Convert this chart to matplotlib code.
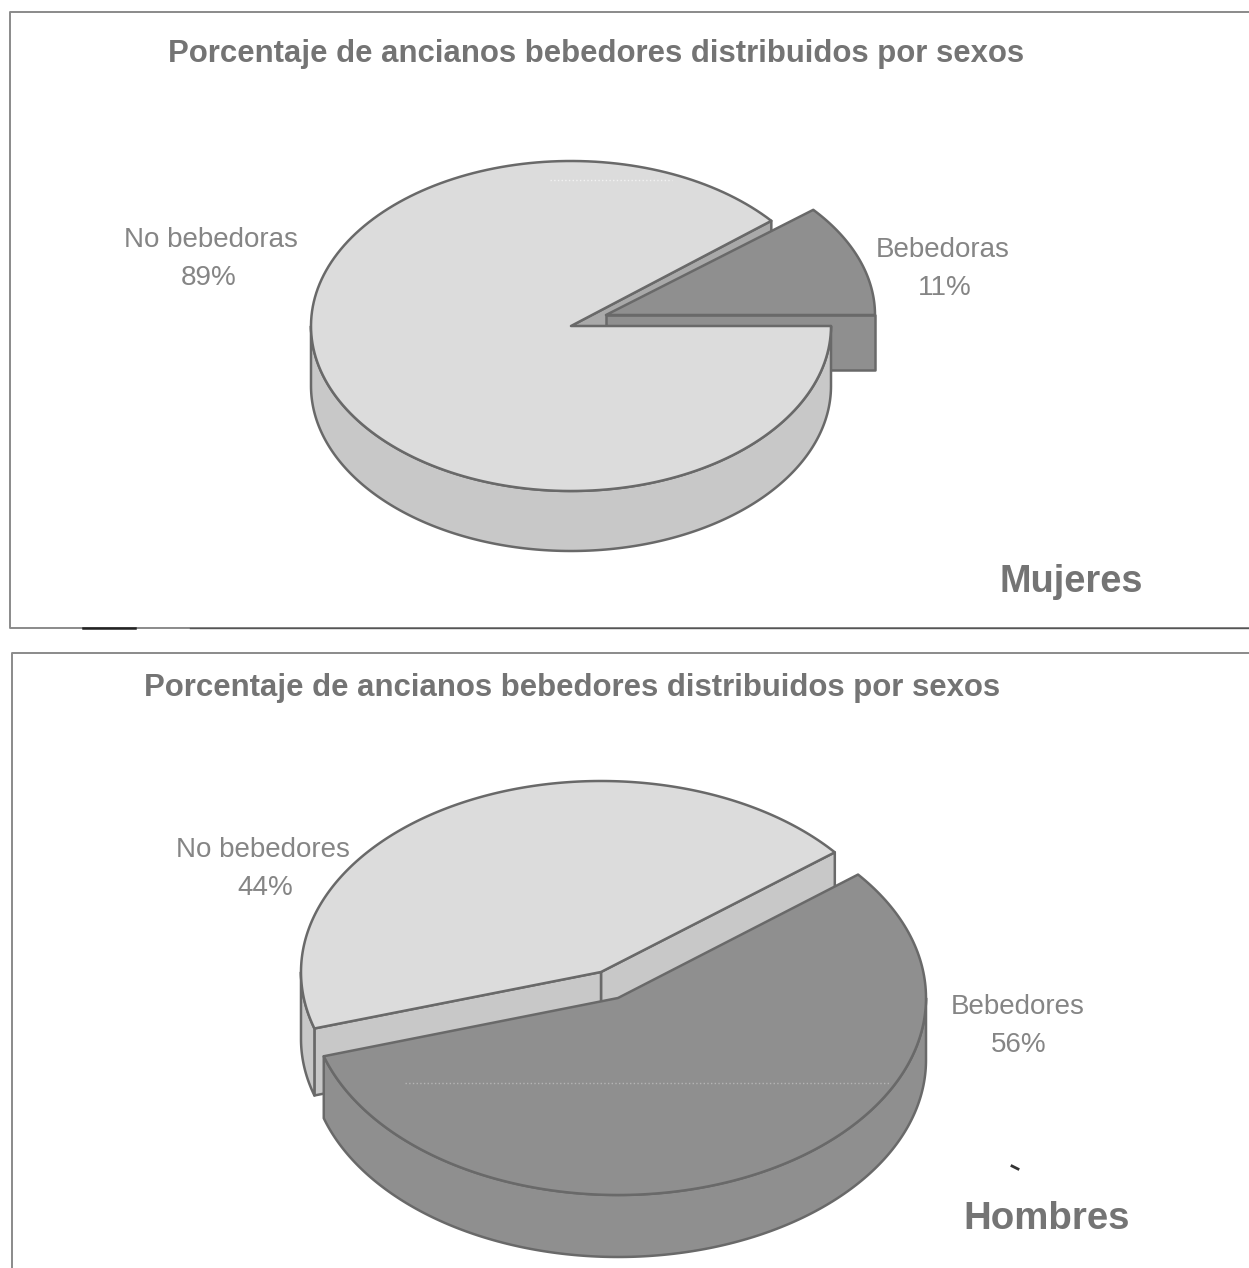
import numpy as np
import matplotlib
matplotlib.use("Agg")
import matplotlib.pyplot as plt
from matplotlib.patches import Polygon

plt.rcParams['font.family'] = ['Liberation Sans', 'DejaVu Sans']

title = "Porcentaje de ancianos bebedores distribuidos por sexos"

mujeres_labels = ["Bebedoras", "No bebedoras"]
mujeres_values = [11, 89]
hombres_labels = ["No bebedores", "Bebedores"]
hombres_values = [44, 56]

LIGHT = "#dcdcdc"
SIDE = "#c8c8c8"
CUT = "#a9a9a9"
DARK = "#8f8f8f"
EDGE = "#696969"
TEXT = "#747474"
LABEL = "#858585"
FRAME = "#8a8a8a"


def arc(cx, cy, rx, ry, a0, a1, n=200):
    t = np.radians(np.linspace(a0, a1, n))
    return np.column_stack([cx + rx * np.cos(t), cy - ry * np.sin(t)])


def draw(ax, pts, color, z, lw=1.8):
    ax.add_patch(Polygon(pts, closed=True, facecolor=color, edgecolor=EDGE,
                         linewidth=lw, joinstyle='round', zorder=z))


def top_face(ax, c, r, a0, a1, color, z):
    pts = np.vstack([[c], arc(c[0], c[1], r[0], r[1], a0, a1)])
    draw(ax, pts, color, z)


def rim(ax, c, r, depth, a0, a1, color, z):
    # outer wall of a slice, from the rim down by depth
    upper = arc(c[0], c[1], r[0], r[1], a0, a1)
    lower = upper[::-1] + [0, depth]
    draw(ax, np.vstack([upper, lower]), color, z)


def radial_face(ax, c, r, depth, a, color, z):
    p = arc(c[0], c[1], r[0], r[1], a, a, 1)[0]
    draw(ax, [c, p, p + [0, depth], np.array(c) + [0, depth]], color, z)


fig = plt.figure(figsize=(12.49, 12.68), dpi=100)
ax = fig.add_axes([0, 0, 1, 1])
ax.set_xlim(0, 1249)
ax.set_ylim(1268, 0)
ax.axis('off')

# panel frames
ax.plot([1249, 10, 10, 1249], [12, 12, 628, 628], color=FRAME, lw=1.4, zorder=1)
ax.plot([83, 135], [628, 628], color="#222222", lw=1.8, zorder=1)
ax.plot([190, 1249], [628, 628], color="#555555", lw=1.0, zorder=1)
ax.plot([12, 12, 1249], [1268, 653, 653], color=FRAME, lw=1.4, zorder=1)

# women: small slice pulled out towards the upper right
start = 0
cut = start + mujeres_values[0] * 3.6
c_main = np.array([571.0, 326.0])
r_main = (260, 165)
c_out = np.array([606.0, 315.0])
r_out = (269, 165)
radial_face(ax, c_main, r_main, 60, cut, CUT, 2)
radial_face(ax, c_out, r_out, 55, start, DARK, 3)
top_face(ax, c_out, r_out, start, cut, DARK, 4)
rim(ax, c_main, r_main, 60, 180, 360, SIDE, 5)
top_face(ax, c_main, r_main, cut, 360, LIGHT, 6)
ax.plot([550, 672], [180, 180], color="#f2f2f2", lw=1, ls=':', zorder=7)

# men: large slice pulled out towards the lower right
cut0 = 38.8
cut1 = cut0 + hombres_values[0] * 3.6
c_back = np.array([601.0, 972.0])
r_back = (300, 191)
c_front = np.array([618.0, 998.0])
r_front = (308, 197)
radial_face(ax, c_back, r_back, 67, cut0, SIDE, 2)
radial_face(ax, c_back, r_back, 67, cut1, SIDE, 2)
rim(ax, c_back, r_back, 67, 180, cut1, SIDE, 2)
top_face(ax, c_back, r_back, cut0, cut1, LIGHT, 3)
rim(ax, c_front, r_front, 62, cut1, 360, DARK, 4)
top_face(ax, c_front, r_front, cut1, cut0 + 360, DARK, 5)
ax.plot([405, 890], [1083, 1083], color="#b5b5b5", lw=1, ls=':', zorder=6)
ax.plot([1012, 1018], [1166, 1169], color="#333333", lw=2, zorder=6)

# titles
ax.text(168, 54, title, fontsize=22.45, fontweight='bold', color=TEXT,
        ha='left', va='center', zorder=8)
ax.text(144, 688, title, fontsize=22.45, fontweight='bold', color=TEXT,
        ha='left', va='center', zorder=8)

# slice labels
ax.text(211, 240, mujeres_labels[1], fontsize=20, color=LABEL, ha='center', va='center', zorder=8)
ax.text(209, 278, f"{mujeres_values[1]}%", fontsize=20, color=LABEL, ha='center', va='center', zorder=8)
ax.text(943, 250, mujeres_labels[0], fontsize=20, color=LABEL, ha='center', va='center', zorder=8)
ax.text(945, 288, f"{mujeres_values[0]}%", fontsize=20, color=LABEL, ha='center', va='center', zorder=8)
ax.text(263, 850, hombres_labels[0], fontsize=20, color=LABEL, ha='center', va='center', zorder=8)
ax.text(265, 888, f"{hombres_values[0]}%", fontsize=20, color=LABEL, ha='center', va='center', zorder=8)
ax.text(1018, 1007, hombres_labels[1], fontsize=20, color=LABEL, ha='center', va='center', zorder=8)
ax.text(1019, 1045, f"{hombres_values[1]}%", fontsize=20, color=LABEL, ha='center', va='center', zorder=8)

# group names
ax.text(1071, 582, "Mujeres", fontsize=27.4, fontweight='bold', color=TEXT, ha='center', va='center', zorder=8)
ax.text(1047, 1219, "Hombres", fontsize=27.6, fontweight='bold', color=TEXT, ha='center', va='center', zorder=8)

fig.savefig("out.png", dpi=100)
